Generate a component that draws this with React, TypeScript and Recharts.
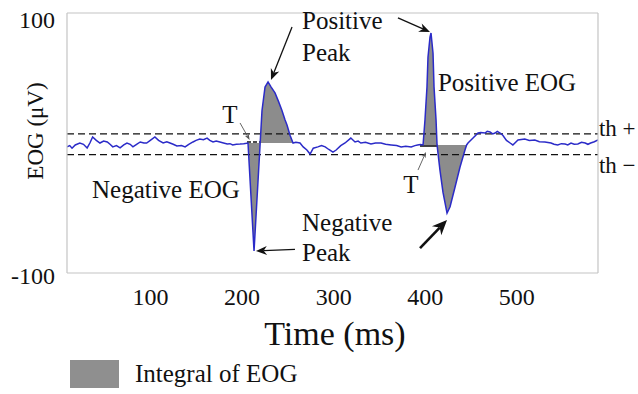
import React from 'react';
import {
  ComposedChart,
  Line,
  Area,
  XAxis,
  YAxis,
  ReferenceLine,
  ReferenceDot,
  Legend,
} from 'recharts';

const SERIF = '"Liberation Serif", "Times New Roman", serif';
const FRAME = '#c4c4c4';
const BLUE = '#2b2bc8';
const FILL = '#8c8c8c';
const INK = '#111111';

// ---- data ----
const timeMs = [
  0, 3, 5.5, 9, 14, 18, 22, 25, 28, 32, 36, 40, 44, 47, 50, 54, 58, 62, 65.5, 69,
  72, 76, 80, 84, 87, 91, 96, 100, 105, 109, 112.5, 116, 120, 125, 129, 133, 137.6,
  141, 145, 149, 153, 156, 159.5, 163, 167, 171, 175, 178, 181, 185, 189, 193,
  197.7, 204.3, 211, 213, 216.3, 219.6, 223, 227.2, 231, 234.8, 238, 240.3, 243.6,
  246.9, 250, 254.5, 258, 262, 265.5, 269, 274, 278, 282, 286, 290.5, 294, 299,
  303.7, 310, 314.6, 318, 321, 326, 332, 337, 343, 348, 354, 360, 365, 370, 376,
  380, 383, 386, 388.9, 391, 393.2, 394.3, 396.5, 397.6, 399.8, 400.9, 403.1,
  404.2, 407.4, 410.7, 415.1, 418.4, 423.8, 429.3, 434.7, 436.5, 438, 443.5, 449,
  452, 456.6, 459, 462, 465, 467.5, 470, 473, 476, 480, 484, 487, 492.6, 500, 505,
  511, 516, 522, 528.7, 532, 536, 540, 544, 547, 550.5, 554, 558, 562, 566, 569,
  572, 576, 580,
];

const eogUv = [
  -3, -2, -4, -1.5, 0, -1, -3.8, 0, 4.6, 2, 0, 1.5, 0.8, -1, -3, -2, -3.8, -1.5, 0, -1,
  -3, -1, 0.8, 0, 0, 2, 4.6, 2, 0, 1, 0, -1, -2.3, -2, -3, -1, 0.8,
  2, 3, 2.5, 3.8, 2, 0.8, 1.5, 0.8, 0, -0.8, -0.5, -1.5, -1, -0.8, -0.5,
  0, -83, 0, 25, 43, 47, 43, 38.5, 32, 25, 18, 13.8, 6,
  0, 0.5, 0, -3, -5.4, -8.5, -4, -3, -2, -3, -5, -7, -5.4, -2,
  0, 3.8, 0.8, 1.5, 0, 0.5, -0.8, 0, 0, -1, -1.5, -2, -3, -2.5, -3,
  -2, -1.5, -1.2, -1.5, 17.7, 43, 66, 81.5, 84.6, 69, 43, 17.7,
  -1.5, -21, -38, -54, -49, -34, -18.5, -5.4, -1.5, 0, 3.8, 7.7,
  8, 7.7, 9, 8.5, 7, 7.7, 9, 7.7, 6, 2, 0, -1.5, 2.3, 3, 2,
  2.3, 1, 0.8, 0, -1, -1.5, -0.5, -0.8, -1.5, 0, -1, -0.8, 0.5, 0, -1,
  0, 1, 2.3,
];

// integral (shaded) episodes: time window and baseline level
const episodeStart = [197.7, 388.9];
const episodeEnd = [246.9, 436.5];
const episodeBase = [0, -1.5];

const thresholds = [7, -9];
const thresholdLabels = ['th +', 'th \u2212'];
const thresholdLabelPos = [
  [581, 11.5],
  [581, -17],
];

const xTicks = [100, 200, 300, 400, 500];
const yTicks = [-100, -50, 0, 50, 100];
const yTickLabelValues = [-100, 100];

// text annotations
const annText = ['Positive', 'Peak', 'Positive EOG', 'Negative EOG', 'Negative', 'Peak', 'T', 'T'];
const annT = [256.7, 256.7, 405.2, 27.3, 256.7, 256.7, 178, 375.7];
const annV = [94.6, 70, 46.9, -35.4, -60.8, -84, 22.3, -32.3];
const annAnchor = ['start', 'start', 'start', 'start', 'start', 'start', 'middle', 'middle'];

// arrows: from -> to (data coordinates), style kind
const arrowFrom = [
  [245.8, 89.2],
  [361.5, 96.2],
  [249, -81.8],
  [385.6, -80.8],
  [189, 15.4],
  [383.4, -20.8],
];
const arrowTo = [
  [222.8, 48.5],
  [396.5, 85.4],
  [206.4, -83.1],
  [415.1, -59.2],
  [199.5, 2.3],
  [392.1, -6.9],
];
const arrowKind = ['main', 'main', 'main', 'bold', 'thin', 'thin'];

// T markers (short horizontal segments at threshold crossing)
const tMarkFrom = [
  [196.6, 0.8],
  [385.6, -2.3],
];
const tMarkTo = [
  [211.9, 0.8],
  [404.2, -2.3],
];

const data = timeMs.map((t, i) => {
  const row: any = { t, eog: eogUv[i] };
  episodeStart.forEach((s, k) => {
    row['int' + k] = t >= s && t <= episodeEnd[k] ? eogUv[i] : null;
  });
  return row;
});

const ARROW_STYLES: any = {
  main: { color: INK, width: 1.3, head: 11, half: 4.5 },
  bold: { color: INK, width: 2.6, head: 15, half: 6.5 },
  thin: { color: '#555', width: 0.9, head: 6, half: 2.2 },
};

function ArrowShape(props: any) {
  const { x1, y1, x2, y2, kind } = props;
  const st = ARROW_STYLES[kind];
  const dx = x2 - x1;
  const dy = y2 - y1;
  const L = Math.hypot(dx, dy) || 1;
  const ux = dx / L;
  const uy = dy / L;
  const bx = x2 - ux * st.head;
  const by = y2 - uy * st.head;
  const nx = x2 - ux * st.head * 0.7;
  const ny = y2 - uy * st.head * 0.7;
  const px = -uy * st.half;
  const py = ux * st.half;
  return (
    <g>
      <line x1={x1} y1={y1} x2={nx} y2={ny} stroke={st.color} strokeWidth={st.width} />
      <polygon
        points={`${x2},${y2} ${bx + px},${by + py} ${nx},${ny} ${bx - px},${by - py}`}
        fill={st.color}
      />
    </g>
  );
}

const XTick = (p: any) => (
  <text
    x={p.x - 8}
    y={p.y + 16}
    textAnchor="middle"
    dominantBaseline="central"
    fontSize={24}
    fontFamily={SERIF}
    fill={INK}
  >
    {p.payload.value}
  </text>
);

const YTick = (p: any) => {
  const v = p.payload.value;
  if (!yTickLabelValues.includes(v)) return <g />;
  return (
    <text
      x={p.x - 4}
      y={p.y + (v > 0 ? 7 : 3)}
      textAnchor="end"
      dominantBaseline="central"
      fontSize={24}
      fontFamily={SERIF}
      fill={INK}
    >
      {v}
    </text>
  );
};

const YLabel = (p: any) => {
  const vb = p.viewBox;
  const cx = vb.x + 28;
  const cy = vb.y + vb.height / 2 - 12;
  return (
    <text
      x={cx}
      y={cy}
      transform={`rotate(-90 ${cx} ${cy})`}
      textAnchor="middle"
      dominantBaseline="central"
      fontSize={23}
      fontFamily={SERIF}
      fill={INK}
    >
      EOG (μV)
    </text>
  );
};

const XLabel = (p: any) => {
  const vb = p.viewBox;
  return (
    <text
      x={vb.x + vb.width / 2 + 2.5}
      y={vb.y + 72}
      textAnchor="middle"
      fontSize={34}
      fontFamily={SERIF}
      fill={INK}
    >
      Time (ms)
    </text>
  );
};

const LegendBox = () => (
  <div style={{ display: 'flex', alignItems: 'center' }}>
    <div style={{ width: 49, height: 28, background: '#8f8f8f' }} />
    <span
      style={{
        marginLeft: 16,
        fontFamily: SERIF,
        fontSize: 25,
        color: INK,
        lineHeight: '28px',
        whiteSpace: 'nowrap',
      }}
    >
      Integral of EOG
    </span>
  </div>
);

const textShape = (text: string, anchor: any, size: number) => (p: any) => (
  <text
    x={p.cx}
    y={p.cy}
    textAnchor={anchor}
    dominantBaseline="central"
    fontSize={size}
    fontFamily={SERIF}
    fill={INK}
  >
    {text}
  </text>
);

export default function App() {
  return (
    <div style={{ position: 'absolute', left: 0, top: 0, width: 638, height: 394, background: '#fff' }}>
      <ComposedChart
        width={638}
        height={394}
        data={data}
        margin={{ top: 13, right: 40, left: 7, bottom: 91 }}
      >
        <XAxis
          dataKey="t"
          type="number"
          domain={[0, 580]}
          ticks={xTicks}
          interval={0}
          allowDataOverflow
          height={30}
          tickLine={false}
          axisLine={{ stroke: FRAME, strokeWidth: 1.2 }}
          tick={<XTick />}
          label={XLabel}
        />
        <XAxis
          xAxisId="top"
          orientation="top"
          mirror
          type="number"
          domain={[0, 580]}
          ticks={xTicks}
          interval={0}
          allowDataOverflow
          height={2}
          tick={false}
          tickSize={5}
          tickLine={{ stroke: FRAME }}
          axisLine={{ stroke: FRAME, strokeWidth: 1.2 }}
        />
        <XAxis
          xAxisId="bm"
          orientation="bottom"
          mirror
          type="number"
          domain={[0, 580]}
          ticks={xTicks}
          interval={0}
          allowDataOverflow
          height={2}
          tick={false}
          tickSize={5}
          tickLine={{ stroke: FRAME }}
          axisLine={false}
        />
        <YAxis
          type="number"
          domain={[-100, 100]}
          ticks={yTicks}
          interval={0}
          allowDataOverflow
          width={60}
          tickLine={false}
          axisLine={{ stroke: FRAME, strokeWidth: 1.2 }}
          tick={<YTick />}
          label={YLabel}
        />
        <YAxis
          yAxisId="lm"
          orientation="left"
          mirror
          type="number"
          domain={[-100, 100]}
          ticks={yTicks}
          interval={0}
          allowDataOverflow
          width={2}
          tick={false}
          tickSize={5}
          tickLine={{ stroke: FRAME }}
          axisLine={false}
        />
        <YAxis
          yAxisId="right"
          orientation="right"
          mirror
          type="number"
          domain={[-100, 100]}
          ticks={yTicks}
          interval={0}
          allowDataOverflow
          width={2}
          tick={false}
          tickSize={5}
          tickLine={{ stroke: FRAME }}
          axisLine={{ stroke: FRAME, strokeWidth: 1.2 }}
        />

        {episodeStart.map((s, k) => (
          <Area
            key={'int' + k}
            dataKey={'int' + k}
            name="Integral of EOG"
            type="linear"
            baseValue={episodeBase[k]}
            fill={FILL}
            fillOpacity={1}
            stroke="none"
            connectNulls={false}
            isAnimationActive={false}
            legendType="rect"
          />
        ))}

        {thresholds.map((th, i) => (
          <ReferenceLine
            key={'th' + i}
            y={th}
            stroke={INK}
            strokeWidth={1.3}
            strokeDasharray="7 4"
          />
        ))}

        {tMarkFrom.map((f, i) => (
          <ReferenceLine
            key={'tm' + i}
            segment={[
              { x: f[0], y: f[1] },
              { x: tMarkTo[i][0], y: tMarkTo[i][1] },
            ]}
            stroke={INK}
            strokeWidth={1.6}
            strokeDasharray={i === 0 ? '4 2' : undefined}
            ifOverflow="visible"
          />
        ))}

        <Line
          dataKey="eog"
          type="linear"
          stroke={BLUE}
          strokeWidth={1.5}
          dot={false}
          activeDot={false}
          isAnimationActive={false}
          legendType="none"
        />

        {arrowFrom.map((f, i) => (
          <ReferenceLine
            key={'ar' + i}
            segment={[
              { x: f[0], y: f[1] },
              { x: arrowTo[i][0], y: arrowTo[i][1] },
            ]}
            ifOverflow="visible"
            shape={(p: any) => <ArrowShape {...p} kind={arrowKind[i]} />}
          />
        ))}

        {annText.map((txt, i) => (
          <ReferenceDot
            key={'ann' + i}
            x={annT[i]}
            y={annV[i]}
            r={1}
            ifOverflow="visible"
            shape={textShape(txt, annAnchor[i], 25)}
          />
        ))}

        {thresholdLabels.map((txt, i) => (
          <ReferenceDot
            key={'thl' + i}
            x={thresholdLabelPos[i][0]}
            y={thresholdLabelPos[i][1]}
            r={1}
            ifOverflow="visible"
            shape={textShape(txt, 'start', 23)}
          />
        ))}

        <Legend
          layout="horizontal"
          verticalAlign="middle"
          align="center"
          wrapperStyle={{ left: 70, top: 360, width: 'auto', height: 'auto' }}
          content={LegendBox}
        />
      </ComposedChart>
    </div>
  );
}
